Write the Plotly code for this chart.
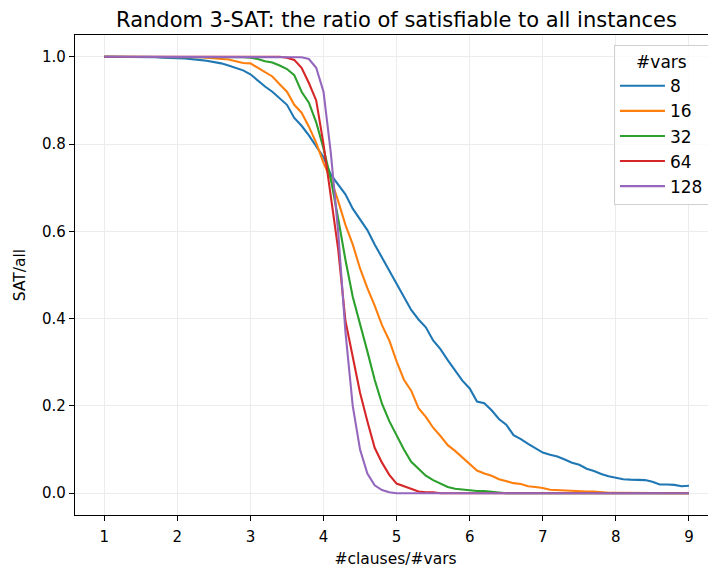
import plotly.graph_objects as go

x_ratio = [round(1.0 + 0.1 * i, 1) for i in range(81)]

vars_labels = ["8", "16", "32", "64", "128"]

sat_8 = [1.0, 1.0, 1.0, 1.0, 0.999, 0.999, 0.999, 0.999, 0.998, 0.998,
         0.997, 0.996, 0.995, 0.993, 0.991, 0.988, 0.985, 0.98, 0.974, 0.969,
         0.96, 0.945, 0.932, 0.92, 0.906, 0.89, 0.86, 0.842, 0.82, 0.795,
         0.77, 0.73, 0.708, 0.685, 0.652, 0.628, 0.603, 0.57, 0.54, 0.51,
         0.48, 0.45, 0.42, 0.398, 0.38, 0.35, 0.33, 0.305, 0.28, 0.258,
         0.24, 0.21, 0.206, 0.19, 0.17, 0.157, 0.133, 0.124, 0.113, 0.102,
         0.093, 0.088, 0.084, 0.077, 0.07, 0.065, 0.056, 0.051, 0.044, 0.039,
         0.036, 0.032, 0.031, 0.031, 0.03, 0.026, 0.02, 0.02, 0.019, 0.016,
         0.017]

sat_16 = [1.0, 1.0, 1.0, 1.0, 1.0, 1.0, 1.0, 1.0, 1.0, 1.0,
          1.0, 1.0, 0.999, 0.999, 0.998, 0.997, 0.996, 0.994, 0.99, 0.986,
          0.985, 0.975, 0.965, 0.955, 0.937, 0.92, 0.89, 0.872, 0.84, 0.803,
          0.757, 0.72, 0.67, 0.615, 0.57, 0.515, 0.47, 0.43, 0.385, 0.35,
          0.302, 0.26, 0.235, 0.195, 0.175, 0.15, 0.131, 0.11, 0.097, 0.082,
          0.068, 0.052, 0.045, 0.04, 0.032, 0.027, 0.023, 0.021, 0.016, 0.014,
          0.012, 0.008, 0.007, 0.007, 0.006, 0.005, 0.004, 0.004, 0.002, 0.001,
          0.001, 0.001, 0.0, 0.0, 0.0, 0.0, 0.0, 0.0, 0.0, 0.0,
          0.0]

sat_32 = [1.0, 1.0, 1.0, 1.0, 1.0, 1.0, 1.0, 1.0, 1.0, 1.0,
          1.0, 1.0, 1.0, 1.0, 1.0, 1.0, 1.0, 1.0, 1.0, 0.999,
          0.998, 0.995, 0.99, 0.987, 0.98, 0.972, 0.958, 0.92, 0.895, 0.85,
          0.79, 0.72, 0.63, 0.535, 0.45, 0.39, 0.325, 0.26, 0.205, 0.165,
          0.131, 0.1, 0.072, 0.057, 0.04, 0.03, 0.022, 0.014, 0.01, 0.008,
          0.006, 0.005, 0.005, 0.003, 0.001, 0.0, 0.0, 0.0, 0.0, 0.0,
          0.0, 0.0, 0.0, 0.0, 0.0, 0.0, 0.0, 0.0, 0.0, 0.0,
          0.0, 0.0, 0.0, 0.0, 0.0, 0.0, 0.0, 0.0, 0.0, 0.0,
          0.0]

sat_64 = [1.0, 1.0, 1.0, 1.0, 1.0, 1.0, 1.0, 1.0, 1.0, 1.0,
          1.0, 1.0, 1.0, 1.0, 1.0, 1.0, 1.0, 1.0, 1.0, 1.0,
          1.0, 1.0, 1.0, 1.0, 1.0, 0.998, 0.993, 0.975, 0.94, 0.9,
          0.8, 0.68, 0.56, 0.395, 0.31, 0.23, 0.165, 0.104, 0.07, 0.042,
          0.022, 0.016, 0.01, 0.004, 0.002, 0.002, 0.0, 0.0, 0.0, 0.0,
          0.0, 0.0, 0.0, 0.0, 0.0, 0.0, 0.0, 0.0, 0.0, 0.0,
          0.0, 0.0, 0.0, 0.0, 0.0, 0.0, 0.0, 0.0, 0.0, 0.0,
          0.0, 0.0, 0.0, 0.0, 0.0, 0.0, 0.0, 0.0, 0.0, 0.0,
          0.0]

sat_128 = [1.0, 1.0, 1.0, 1.0, 1.0, 1.0, 1.0, 1.0, 1.0, 1.0,
           1.0, 1.0, 1.0, 1.0, 1.0, 1.0, 1.0, 1.0, 1.0, 1.0,
           1.0, 1.0, 1.0, 1.0, 1.0, 1.0, 1.0, 0.999, 0.995, 0.975,
           0.92, 0.78, 0.6, 0.37, 0.2, 0.1, 0.045, 0.018, 0.007, 0.002,
           0.0, 0.0, 0.0, 0.0, 0.0, 0.0, 0.0, 0.0, 0.0, 0.0,
           0.0, 0.0, 0.0, 0.0, 0.0, 0.0, 0.0, 0.0, 0.0, 0.0,
           0.0, 0.0, 0.0, 0.0, 0.0, 0.0, 0.0, 0.0, 0.0, 0.0,
           0.0, 0.0, 0.0, 0.0, 0.0, 0.0, 0.0, 0.0, 0.0, 0.0,
           0.0]

series = [sat_8, sat_16, sat_32, sat_64, sat_128]
colors = ["#1f77b4", "#ff7f0e", "#2ca02c", "#d62728", "#9467bd"]

x_ticks = [1, 2, 3, 4, 5, 6, 7, 8, 9]
y_ticks = [0.0, 0.2, 0.4, 0.6, 0.8, 1.0]

fig = go.Figure()
for lab, ys, c in zip(vars_labels, series, colors):
    fig.add_trace(go.Scatter(x=x_ratio, y=ys, mode="lines", name=lab,
                             line=dict(color=c, width=2.1)))

# the page body adds an 8px offset, so the figure is 8px smaller
W, H = 708, 560
font_family = "DejaVu Sans"
fig.update_layout(
    width=W, height=H,
    margin=dict(l=67, r=0, t=27, b=53, autoexpand=False),
    paper_bgcolor="white", plot_bgcolor="white",
    font=dict(family=font_family, size=15, color="black"),
    title=dict(text="Random 3-SAT: the ratio of satisfiable to all instances",
               x=(67 + 710) / 2 / W, xanchor="center", y=1 - 12 / H, yanchor="middle",
               font=dict(size=21, color="black")),
    showlegend=True,
    legend=dict(
        title=dict(text="#vars", side="top center", font=dict(size=17)),
        x=0.989, xanchor="right", y=0.979, yanchor="top",
        bgcolor="rgba(255,255,255,0.8)", bordercolor="#d0d0d0", borderwidth=1,
        font=dict(size=17), tracegroupgap=0, itemwidth=45,
    ),
)
fig.update_xaxes(
    range=[0.6, 9.37], tickvals=x_ticks, ticktext=[str(v) for v in x_ticks],
    showgrid=True, gridcolor="#ececec", gridwidth=1,
    showline=True, linecolor="black", linewidth=1.3, mirror=True,
    ticks="outside", ticklen=5, tickwidth=1.2, tickcolor="black",
    ticklabelstandoff=3,
    zeroline=False, automargin=False,
    title=dict(text="#clauses/#vars", font=dict(size=15.5), standoff=9),
)
fig.update_yaxes(
    range=[-0.05, 1.05], tickvals=y_ticks, ticktext=[f"{v:.1f}" for v in y_ticks],
    showgrid=True, gridcolor="#ececec", gridwidth=1,
    showline=True, linecolor="black", linewidth=1.3, mirror=False,
    ticks="outside", ticklen=5, tickwidth=1.2, tickcolor="black",
    zeroline=False, automargin=False,
    title=dict(text="SAT/all", font=dict(size=15.5), standoff=12),
)

fig.write_html("out.html")
